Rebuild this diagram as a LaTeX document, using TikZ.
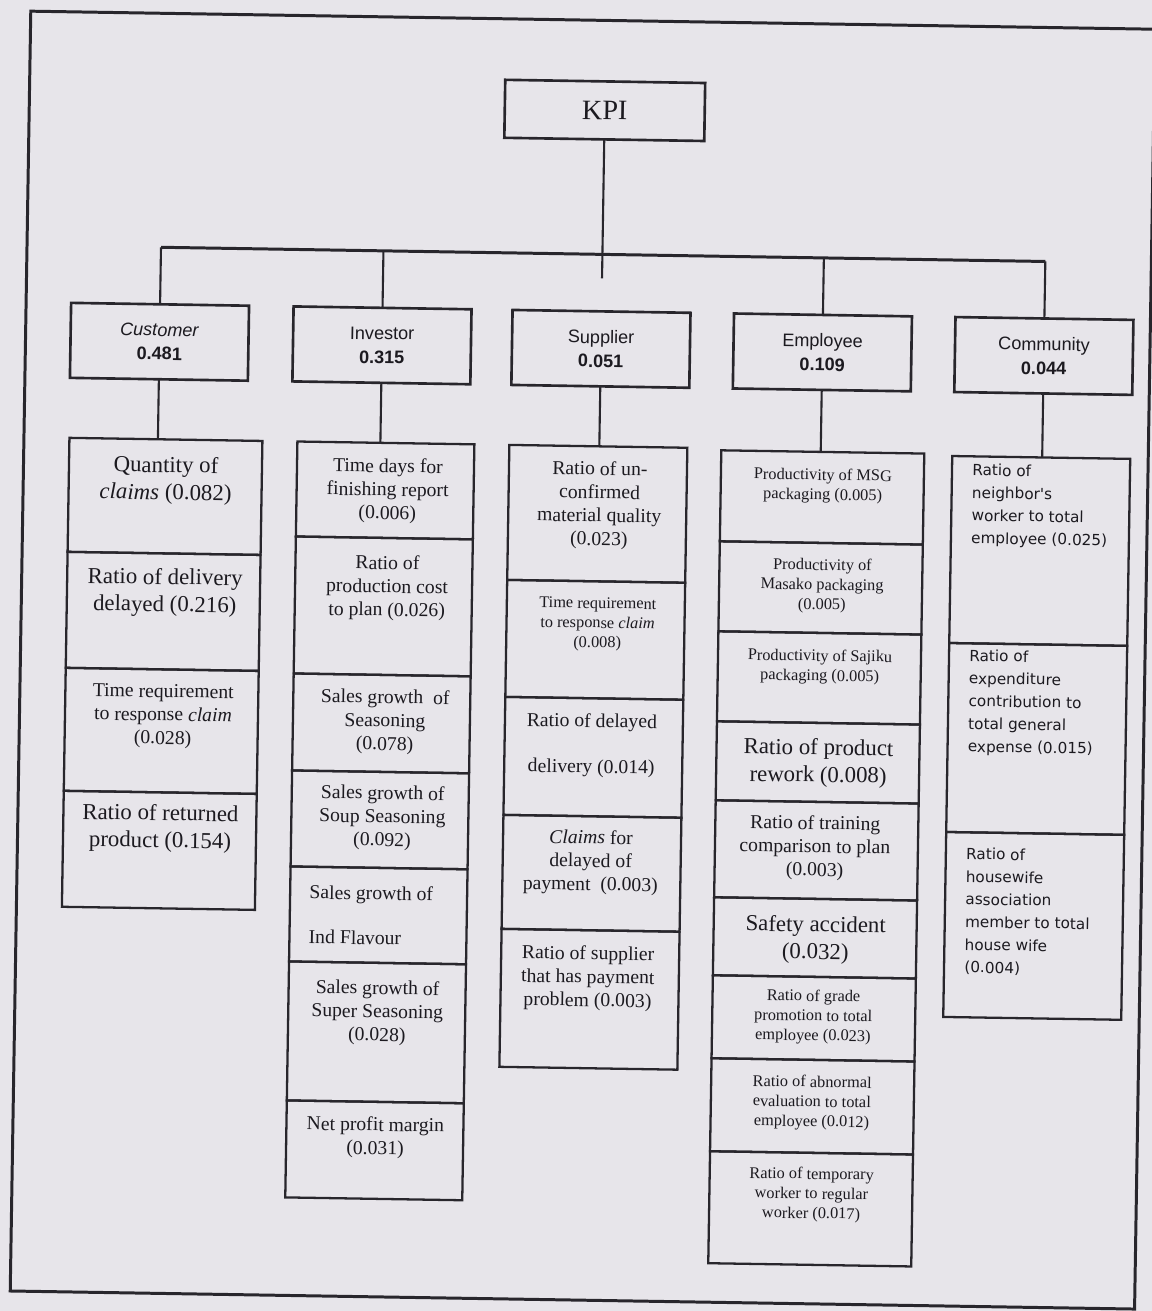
\documentclass[tikz,border=0pt]{standalone}
\usepackage{fontspec}
\setmainfont{Liberation Serif}
\newfontfamily\hdrfont{Liberation Sans}
\newfontfamily\comfont{DejaVu Sans}
\usetikzlibrary{calc}
\definecolor{bg}{RGB}{231,229,234}
\definecolor{ink}{RGB}{40,38,44}
\definecolor{txt}{RGB}{28,26,32}
\newcommand\kcell[5]{\node[cellbox, minimum width={(#3-#2)*0.02cm}, minimum height={(#5-#4)*0.02cm}] (#1) at ({(#2+#3)/2},{(#4+#5)/2}) {};}
\tikzset{
  frameline/.style={draw=ink, line width=1.7pt},
  cellbox/.style={draw=ink, line width=1.3pt, inner sep=0pt, outer sep=0pt},
  hdr/.style={draw=ink, line width=1.5pt, minimum width=3.56cm, minimum height=1.5cm, inner sep=0pt, outer sep=0pt, align=center, text=txt, font=\hdrfont\fontsize{10.3}{13.6}\selectfont},
  conn/.style={draw=ink, line width=1.2pt},
  barline/.style={draw=ink, line width=1.7pt},
  tbig/.style={align=center, text=txt, inner sep=0pt, font=\fontsize{13}{15.5}\selectfont},
  tmed/.style={align=center, text=txt, inner sep=0pt, font=\fontsize{11.2}{13.3}\selectfont},
  tsml/.style={align=center, text=txt, inner sep=0pt, font=\fontsize{9.3}{11.2}\selectfont},
  tcom/.style={align=left, anchor=west, text=txt, inner sep=0pt, font=\comfont\fontsize{8.7}{12.9}\selectfont},
}
\begin{document}
\begin{tikzpicture}[x=0.02cm,y=-0.02cm]
\useasboundingbox (0,0) rectangle (1152,1311);
\fill[bg] (0,0) rectangle (1152,1311);
\clip (0,0) rectangle (1152,1311);
\begin{scope}[rotate around={-0.92:(576,655)}, transform shape]
% outer frame
\draw[frameline] (20.5,20) -- (1145,20) -- (1145,1300) -- (20.5,1300) -- cycle;

% top node and headers
\node[hdr, font=\fontsize{16}{18}\selectfont, minimum width=4cm, minimum height=1.16cm] (kpi) at (596,110) {KPI};
\node[hdr] (hC) at (154.5,348.5) {\textit{Customer}\\\textbf{0.481}};
\node[hdr] (hI) at (377,348.5) {Investor\\\textbf{0.315}};
\node[hdr] (hS) at (596,348.5) {Supplier\\\textbf{0.051}};
\node[hdr] (hE) at (817.5,348.5) {Employee\\\textbf{0.109}};
\node[hdr] (hM) at (1039,348.5) {Community\\\textbf{0.044}};

% bar and junctions
\coordinate (jC) at (154.5,254);
\coordinate (jI) at (377,254);
\coordinate (jS) at (596,254);
\coordinate (jE) at (817.5,254);
\coordinate (jM) at (1039,254);
\coordinate (sStub) at (596,278);
\draw[barline] (jC) -- (jM);
\draw[conn] (kpi) -- (jS);
\draw[conn] (jC) -- (hC);
\draw[conn] (jI) -- (hI);
\draw[conn] (jS) -- (sStub);
\draw[conn] (jE) -- (hE);
\draw[conn] (jM) -- (hM);

% Customer column
\kcell{c1}{66}{259}{446}{560}
\kcell{c2}{66}{259}{560}{676}
\kcell{c3}{66}{259}{676}{799}
\kcell{c4}{66}{259}{799}{915}
% Investor column
\kcell{i1}{294}{471}{446}{541}
\kcell{i2}{294}{471}{541}{678}
\kcell{i3}{294}{471}{678}{775}
\kcell{i4}{294}{471}{775}{871}
\kcell{i5}{294}{471}{871}{966}
\kcell{i6}{294}{471}{966}{1105}
\kcell{i7}{294}{471}{1105}{1202}
% Supplier column
\kcell{s1}{506}{684}{446}{581}
\kcell{s2}{506}{684}{581}{698}
\kcell{s3}{506}{684}{698}{816}
\kcell{s4}{506}{684}{816}{930}
\kcell{s5}{506}{684}{930}{1068}
% Employee column
\kcell{e1}{718}{921}{448}{539}
\kcell{e2}{718}{921}{539}{629}
\kcell{e3}{718}{921}{629}{719}
\kcell{e4}{718}{921}{719}{798}
\kcell{e5}{718}{921}{798}{895}
\kcell{e6}{718}{921}{895}{973}
\kcell{e7}{718}{921}{973}{1056}
\kcell{e8}{718}{921}{1056}{1149}
\kcell{e9}{718}{921}{1149}{1261}
% Community column
\kcell{m1}{949}{1127}{450}{637}
\kcell{m2}{949}{1127}{637}{826}
\kcell{m3}{949}{1127}{826}{1011}

% header to column connectors
\draw[conn] (hC) -- ($(c1.north west)!0.4585!(c1.north east)$);
\draw[conn] (hI) -- ($(i1.north west)!0.469!(i1.north east)$);
\draw[conn] (hS) -- ($(s1.north west)!0.5056!(s1.north east)$);
\draw[conn] (hE) -- ($(e1.north west)!0.490!(e1.north east)$);
\draw[conn] (hM) -- ($(m1.north west)!0.5056!(m1.north east)$);

% Customer texts
\node[tbig] (tc1) at (163,487) {Quantity of\\\textit{claims} (0.082)};
\node[tbig] (tc2) at (164,599) {Ratio of delivery\\delayed (0.216)};
\node[tmed] (tc3) at (164,723) {Time requirement\\to response \textit{claim}\\(0.028)};
\node[tbig] (tc4) at (163,835) {Ratio of returned\\product (0.154)};
% Investor texts
\node[tmed] (ti1) at (385,494) {Time days for\\finishing report\\(0.006)};
\node[tmed] (ti2) at (386,591) {Ratio of\\production cost\\to plan (0.026)};
\node[tmed] (ti3) at (386,725) {Sales growth\ \ of\\Seasoning\\(0.078)};
\node[tmed] (ti4) at (385,821) {Sales growth of\\Soup Seasoning\\(0.092)};
\node[tmed, align=left, anchor=west] (ti5) at (313,918.5) {Sales growth of\\[12.2pt]Ind Flavour};
\node[tmed] (ti6) at (383,1016) {Sales growth of\\Super Seasoning\\(0.028)};
\node[tmed] (ti7) at (383,1141) {Net profit margin\\(0.031)};
% Supplier texts
\node[tmed] (ts1) at (597,505) {Ratio of un-\\confirmed\\material quality\\(0.023)};
\node[tsml] (ts2) at (597,624) {Time requirement\\to response \textit{claim}\\(0.008)};
\node[tmed] (ts3) at (593,745) {Ratio of delayed\\[12.8pt]delivery (0.014)};
\node[tmed] (ts4) at (594,862) {\textit{Claims} for\\delayed of\\payment\ \ (0.003)};
\node[tmed] (ts5) at (593,978) {Ratio of supplier\\that has payment\\problem (0.003)};
% Employee texts
\node[tsml] (te1) at (820,482) {Productivity of MSG\\packaging (0.005)};
\node[tsml] (te2) at (821,582) {Productivity of\\Masako packaging\\(0.005)};
\node[tsml] (te3) at (820,663) {Productivity of Sajiku\\packaging (0.005)};
\node[tbig] (te4) at (820,759) {Ratio of product\\rework (0.008)};
\node[tmed] (te5) at (818,844) {Ratio of training\\comparison to plan\\(0.003)};
\node[tbig] (te6) at (820,936) {Safety accident\\(0.032)};
\node[tsml] (te7) at (819,1013) {Ratio of grade\\promotion to total\\employee (0.023)};
\node[tsml] (te8) at (819,1099) {Ratio of abnormal\\evaluation to total\\employee (0.012)};
\node[tsml] (te9) at (820,1191) {Ratio of temporary\\worker to regular\\worker (0.017)};
% Community texts
\node[tcom] (tm1) at (969,499) {Ratio of\\neighbor's\\worker to total\\employee (0.025)};
\node[tcom] (tm2) at (969,696) {Ratio of\\expenditure\\contribution to\\total general\\expense (0.015)};
\node[tcom] (tm3) at (969,905) {Ratio of\\housewife\\association\\member to total\\house wife\\(0.004)};
\end{scope}
\end{tikzpicture}
\end{document}
